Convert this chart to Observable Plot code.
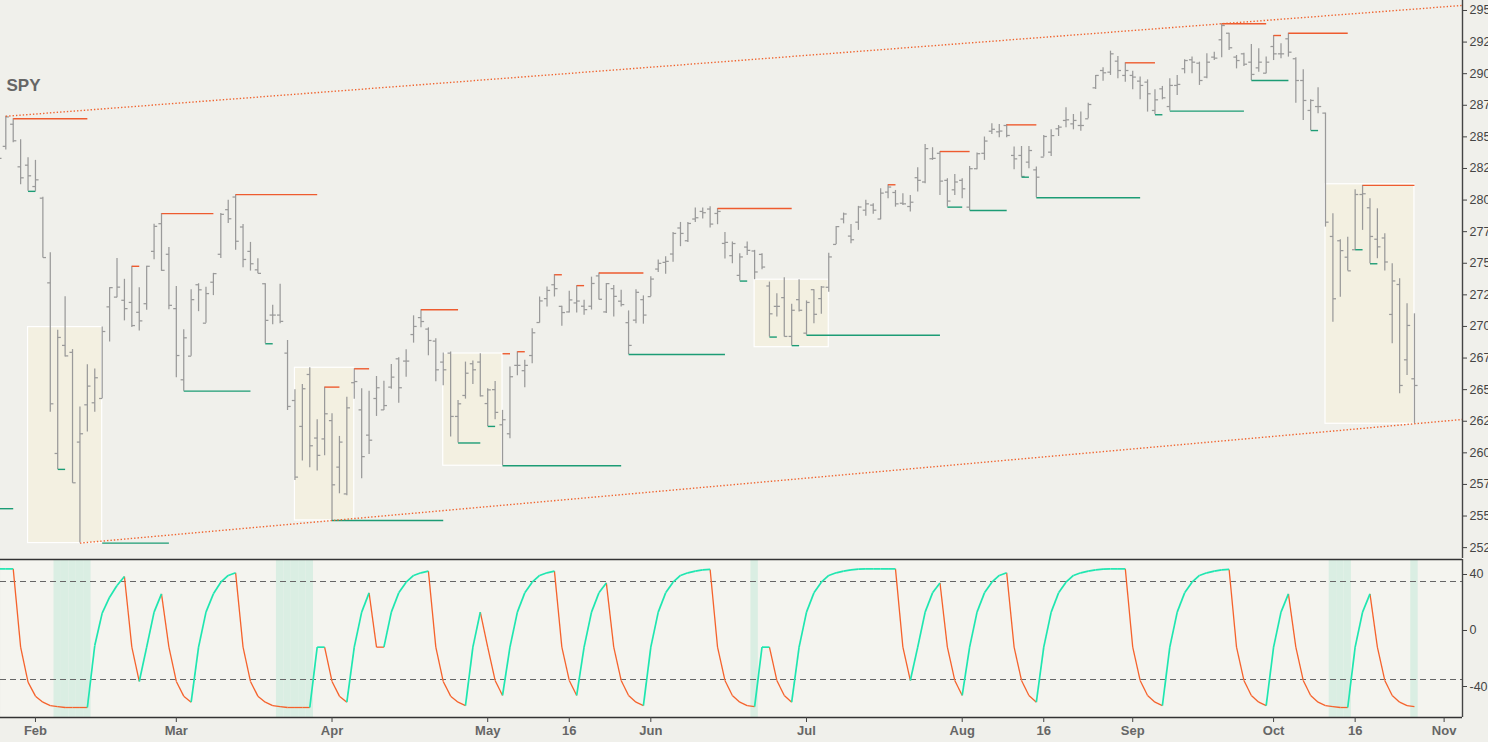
<!DOCTYPE html>
<html><head><meta charset="utf-8">
<script src="https://cdn.jsdelivr.net/npm/d3@7"></script>
<script src="https://cdn.jsdelivr.net/npm/@observablehq/plot@0.6"></script>
<style>
html,body{margin:0;padding:0;background:#f0f0eb;overflow:hidden;}
#chart{width:1488px;height:742px;}
#chart svg{display:block;}
</style></head><body><div id="chart"></div>
<script>
// ---- trading sessions (2018), index starts at -1 (Jan 25) ----
const firstIndex = -1;
const dates = ("01-25 01-26 01-29 01-30 01-31 02-01 02-02 02-05 02-06 02-07 02-08 02-09 02-12 02-13 02-14 02-15 02-16 02-20 02-21 02-22 02-23 02-26 02-27 02-28 " +
"03-01 03-02 03-05 03-06 03-07 03-08 03-09 03-12 03-13 03-14 03-15 03-16 03-19 03-20 03-21 03-22 03-23 03-26 03-27 03-28 03-29 " +
"04-02 04-03 04-04 04-05 04-06 04-09 04-10 04-11 04-12 04-13 04-16 04-17 04-18 04-19 04-20 04-23 04-24 04-25 04-26 04-27 04-30 " +
"05-01 05-02 05-03 05-04 05-07 05-08 05-09 05-10 05-11 05-14 05-15 05-16 05-17 05-18 05-21 05-22 05-23 05-24 05-25 05-29 05-30 05-31 " +
"06-01 06-04 06-05 06-06 06-07 06-08 06-11 06-12 06-13 06-14 06-15 06-18 06-19 06-20 06-21 06-22 06-25 06-26 06-27 06-28 06-29 " +
"07-02 07-03 07-05 07-06 07-09 07-10 07-11 07-12 07-13 07-16 07-17 07-18 07-19 07-20 07-23 07-24 07-25 07-26 07-27 07-30 07-31 " +
"08-01 08-02 08-03 08-06 08-07 08-08 08-09 08-10 08-13 08-14 08-15 08-16 08-17 08-20 08-21 08-22 08-23 08-24 08-27 08-28 08-29 08-30 08-31 " +
"09-04 09-05 09-06 09-07 09-10 09-11 09-12 09-13 09-14 09-17 09-18 09-19 09-20 09-21 09-24 09-25 09-26 09-27 09-28 " +
"10-01 10-02 10-03 10-04 10-05 10-08 10-09 10-10 10-11 10-12 10-15 10-16 10-17 10-18 10-19 10-22 10-23 10-24 10-25 10-26").split(" ");

const open = [
284.2,284.25,286.0,282.63,282.76,281.07,280.15,273.45,259.95,268.5,
267.95,260.85,263.8,263.96,264.3,271.55,272.32,272.07,271.9,271.12,
271.8,275.94,278.13,275.71,271.41,265.78,267.65,273.3,270.26,273.5,
275.71,279.24,280.24,277.87,275.94,274.48,273.38,270.9,270.9,267.89,
264.14,262.09,266.2,261.17,261.1,262.55,258.87,256.75,265.55,263.4,
261.4,264.3,263.4,265.2,267.44,267.26,269.36,270.7,269.79,268.84,
267.18,267.89,262.88,264.54,267.05,267.18,263.9,265.0,262.22,261.51,
266.92,266.5,267.7,270.31,272.2,273.3,271.59,271.15,271.86,271.6,
271.6,274.0,271.15,272.99,272.0,270.3,270.5,272.12,272.36,274.54,
275.07,275.73,277.79,276.78,278.5,279.1,279.29,278.94,276.57,275.6,
274.04,276.28,275.97,275.7,273.2,271.59,272.28,269.21,272.12,269.47,
272.91,272.2,273.1,276.49,278.5,277.15,278.25,279.2,279.6,278.5,
280.63,280.6,279.75,279.49,281.77,281.43,283.27,283.7,281.56,280.81,
281.56,279.44,282.48,283.7,285.45,285.4,285.9,283.53,283.53,283.0,
282.39,283.4,283.79,285.64,286.3,286.03,285.9,286.43,288.88,290.25,
290.12,290.99,289.86,289.86,289.41,289.33,287.09,288.8,287.4,289.07,
290.39,291.1,290.83,289.73,291.31,292.68,293.2,291.31,291.57,290.91,
290.46,290.04,292.15,291.57,292.76,291.18,289.46,287.09,287.4,286.88,
277.12,276.78,275.48,276.07,280.44,279.39,276.9,277.0,270.95,273.32,
267.36,265.86];

const high = [
284.3,286.63,286.43,284.77,283.35,283.14,280.23,275.83,269.7,272.36,
268.17,263.62,266.97,266.63,269.95,273.07,275.37,273.73,274.76,273.07,
274.76,278.08,278.93,276.24,273.17,269.74,272.9,273.38,273.1,274.2,
278.93,279.98,280.43,278.07,276.65,275.36,273.38,271.67,273.33,268.89,
265.0,265.41,266.73,262.62,265.2,263.09,261.3,264.4,266.65,265.07,
264.88,266.04,265.67,266.99,267.52,268.15,270.84,271.32,269.89,269.02,
267.89,267.97,264.15,267.18,267.26,267.84,265.07,265.65,263.36,266.79,
268.0,267.32,269.82,272.33,273.12,274.1,271.6,272.78,273.23,272.07,
273.9,274.23,273.39,273.25,272.86,271.23,272.9,272.42,273.93,275.25,
275.51,277.44,278.23,278.23,279.37,279.37,279.47,279.33,277.44,276.68,
275.75,276.68,276.02,275.75,273.51,272.59,273.86,271.75,273.7,272.02,
272.91,273.17,275.8,277.91,278.97,278.07,279.5,279.98,279.7,280.89,
281.21,280.76,280.5,280.37,282.56,284.4,284.14,283.84,281.69,282.03,
281.69,282.66,283.72,284.99,286.03,285.98,285.98,284.19,284.24,284.24,
282.61,285.11,285.56,285.9,287.3,286.77,286.96,287.67,289.86,290.46,
291.78,291.36,290.86,290.2,289.73,289.51,288.72,288.99,289.59,289.86,
291.1,291.31,290.91,291.57,291.7,293.95,293.2,291.44,291.62,292.31,
291.97,291.31,293.02,292.36,293.2,291.26,290.31,287.93,288.88,286.88,
278.92,276.86,277.06,280.81,281.16,280.1,279.31,277.33,274.96,273.77,
271.8,271.0];

const low = [
282.4,283.96,284.53,281.21,280.69,280.69,275.41,263.22,258.69,267.58,
257.59,252.86,261.64,263.22,264.28,268.77,272.27,270.44,269.91,269.64,
271.28,275.28,274.36,271.33,265.94,264.88,267.65,271.17,270.26,272.44,
275.37,278.14,276.02,274.64,274.38,274.17,268.63,270.14,270.22,263.35,
257.81,259.35,258.82,258.56,259.77,254.65,256.76,256.6,264.25,257.95,
259.87,262.88,263.35,265.04,263.93,265.99,268.68,269.89,267.68,265.62,
265.31,261.25,260.78,264.25,265.41,264.41,262.09,262.62,258.98,261.12,
266.1,265.15,267.05,270.27,271.54,272.33,270.02,271.07,271.07,270.88,
271.3,272.1,271.02,270.75,271.54,267.78,270.22,270.18,272.36,274.27,
274.14,275.07,276.31,276.65,278.23,278.5,277.79,278.05,275.33,274.96,
273.59,275.62,273.7,274.49,269.16,270.75,269.16,268.48,271.15,269.3,
270.22,270.96,272.7,276.49,278.12,276.54,277.6,278.71,278.87,278.44,
280.1,279.44,279.57,279.05,280.63,281.29,283.14,280.37,279.44,280.37,
280.1,279.17,282.4,283.14,285.19,284.93,284.93,282.4,281.81,282.47,
280.18,283.4,283.45,285.03,285.72,285.56,285.45,286.43,288.75,289.41,
289.86,289.59,289.33,288.72,287.93,286.96,286.75,287.93,287.04,288.28,
289.99,289.99,289.07,289.59,291.04,291.26,291.84,290.38,290.57,289.46,
290.12,289.99,291.04,291.18,291.31,287.67,286.3,285.5,286.82,277.86,
270.34,272.32,274.38,276.07,277.6,274.96,275.36,274.38,268.63,264.68,
266.12,262.3];

const close = [
283.3,286.58,284.69,281.76,281.92,281.6,275.45,263.88,269.13,267.67,
257.63,261.51,265.28,265.94,269.6,273.07,273.11,271.41,270.07,270.44,
274.76,277.92,274.44,271.67,267.7,269.1,272.12,272.9,272.6,274.18,
278.87,278.52,276.74,275.3,274.96,274.2,270.48,270.9,270.4,263.67,
258.08,265.07,260.56,259.8,263.09,257.47,260.85,263.56,265.64,259.7,
261.0,265.15,263.74,265.99,265.15,267.26,270.0,270.39,268.89,266.57,
266.57,262.88,263.88,266.3,266.57,264.51,264.98,263.2,262.62,266.02,
266.92,266.92,269.5,272.02,272.85,272.99,271.1,272.1,272.01,271.33,
273.4,272.15,273.39,272.38,271.73,268.5,272.7,270.9,273.75,274.99,
275.15,277.36,277.36,278.15,278.6,279.0,278.1,279.1,276.65,276.56,
275.5,276.02,274.31,274.7,271.0,271.59,269.21,271.28,271.28,271.9,
270.96,273.12,275.5,277.9,278.9,276.86,279.45,279.7,279.2,280.55,
281.03,279.7,279.7,279.83,281.56,284.07,283.3,281.5,279.92,281.43,
280.89,282.48,283.67,284.67,285.6,285.46,285.11,283.26,281.87,283.92,
281.81,285.03,285.1,285.77,286.35,286.3,285.9,287.56,289.86,290.07,
291.57,290.25,290.25,289.73,289.07,288.41,287.93,288.09,289.07,289.15,
291.04,290.91,289.46,290.91,291.23,293.81,292.05,291.04,290.75,289.94,
290.91,290.91,291.57,291.57,291.7,289.46,287.88,287.88,287.4,278.25,
272.19,276.0,274.4,280.44,280.5,277.12,276.3,275.1,273.6,265.33,
270.08,265.33];

// oscillator (lower panel)
const osc = [
44.0,44.0,44.0,-11.9,-36.9,-46.9,-51.2,-53.6,-54.3,-55.0,
-55.0,-55.0,-55.0,-10.7,12.4,23.8,32.1,38.6,-11.9,-36.4,
-11.9,13.1,26.2,-11.9,-36.4,-46.9,-51.2,-11.9,13.1,26.2,
34.5,39.3,41.2,-11.9,-36.4,-46.9,-51.2,-53.6,-54.3,-55.0,
-55.0,-55.0,-55.0,-11.9,-11.9,-36.4,-46.9,-51.2,-11.9,13.1,
26.9,-11.9,-11.9,13.1,26.9,34.5,39.3,41.2,42.4,-11.9,
-36.4,-46.9,-51.2,-53.6,-11.9,13.1,-11.9,-35.7,-46.4,-11.9,
13.1,26.9,34.5,39.3,41.2,42.4,-11.9,-35.7,-46.4,-11.9,
13.1,26.9,34.0,-11.9,-35.7,-46.4,-51.2,-53.6,-11.9,13.1,
26.9,34.5,39.3,41.2,42.4,43.3,43.6,-11.9,-35.7,-46.4,
-51.2,-53.6,-54.3,-11.9,-11.9,-35.7,-46.4,-51.2,-11.9,13.1,
26.9,34.5,39.3,41.2,42.4,43.3,43.8,44.0,44.0,44.0,
44.0,44.0,-11.9,-35.7,-11.9,13.1,26.9,34.0,-11.9,-35.7,
-46.4,-11.9,13.1,26.9,34.5,39.3,41.2,-11.9,-35.7,-46.4,
-51.2,-11.9,13.1,26.9,34.5,39.3,41.2,42.4,43.3,43.8,
44.0,44.0,44.0,-11.9,-35.7,-46.4,-51.2,-53.6,-11.9,13.1,
26.9,34.5,39.3,41.2,42.4,43.3,43.6,-11.9,-35.7,-46.4,
-51.2,-53.6,-11.9,13.1,26.2,-11.9,-35.7,-46.4,-51.2,-53.6,
-54.3,-55.0,-55.0,-11.9,13.1,26.2,-11.9,-35.7,-46.4,-51.2,
-53.6,-54.3];

// resistance levels: start bar, end bar, price
const resStart = [1,17,21,31,43,47,56,67,69,74,77,80,96,119,126,135,151,164,171,173,183];
const resEnd   = [11,18,28,42,45,49,61,68,70,75,78,86,106,120,130,139,155,170,172,181,190];
const resPrice = [286.43,274.76,278.93,280.43,265.2,266.65,271.32,267.84,268.0,274.09,273.23,274.23,279.33,281.21,283.84,285.95,290.86,293.95,293.02,293.2,281.16];
// support levels
const supStart = [-3,3,7,13,24,35,44,61,65,67,84,99,103,106,108,127,130,137,139,155,157,168,176,182,184];
const supEnd   = [1,4,8,22,33,36,59,64,66,83,97,100,104,107,126,129,135,138,153,156,167,173,177,183,185];
const supPrice = [255.58,280.69,258.69,252.86,264.88,268.63,254.65,260.78,262.09,258.98,267.78,273.59,269.16,268.48,269.3,279.44,279.17,281.81,280.18,286.75,287.04,289.46,285.5,276.07,274.96];
// consolidation boxes
const boxStart = [3,39,59,101,178];
const boxEnd   = [13,47,67,111,190];
const boxLow   = [252.86,254.65,258.98,268.36,262.3];
const boxHigh  = [269.95,266.73,267.86,273.7,281.25];
// trend channel anchor bars
const trendTopBars = [0,164];     // through highs
const trendBottomBars = [10,190]; // through lows

// axes
const priceTicks = [252.5,255,257.5,260,262.5,265,267.5,270,272.5,275,277.5,280,282.5,285,287.5,290,292.5,295];
const oscTicks = [-40,0,40];
const oscBands = [35,-35];
const xTickIdx = [4,23,44,65,76,87,108,129,140,152,171,182,194];
const xTickLabels = ["Feb","Mar","Apr","May","16","Jun","Jul","Aug","16","Sep","Oct","16","Nov"];

// ---- build tables ----
const bars = dates.map((d,k)=>({i:k+firstIndex, date:d, o:open[k], h:high[k], l:low[k], c:close[k], v:osc[k]}));
const byIdx = new Map(bars.map(b=>[b.i,b]));
const res = resStart.map((s,k)=>({i0:s, i1:resEnd[k], p:resPrice[k]}));
const sup = supStart.map((s,k)=>({i0:s, i1:supEnd[k], p:supPrice[k]}));
const boxes = boxStart.map((s,k)=>({i0:s, i1:boxEnd[k], lo:boxLow[k], hi:boxHigh[k]}));

const xDomain = [-0.715, 196.48];
const xEnd = xDomain[1];
function extend(a, pa, b, pb){ const s=(pb-pa)/(b-a); return {x1:a, y1:pa, x2:xEnd, y2:pa+s*(xEnd-a)}; }
const trends = [
  extend(trendTopBars[0], byIdx.get(trendTopBars[0]).h, trendTopBars[1], byIdx.get(trendTopBars[1]).h),
  extend(trendBottomBars[0], byIdx.get(trendBottomBars[0]).l, trendBottomBars[1], byIdx.get(trendBottomBars[1]).l)
];

const segs = [];
let dir = "up";
for (let k=0;k<bars.length-1;k++){
  const a=bars[k], b=bars[k+1];
  if (b.v>a.v) dir="up"; else if (b.v<a.v) dir="down";
  segs.push({x1:a.i, y1:a.v, x2:b.i, y2:b.v, dir});
}
const shaded = bars.filter(b=>b.v<=-54);

const font = "Liberation Sans, Arial, Helvetica, sans-serif";
const barColor = "#9a9a9a";
const redLvl = "#ee5b2f", greenLvl = "#1c9c75";
const oscUp = "#1fe6b0", oscDown = "#f5622c";
const yTop = [251.64, 295.79];
const yBot = [-62.14, 50.71];

const topPlot = Plot.plot({
  width:1488, height:558, marginLeft:0, marginRight:26, marginTop:0, marginBottom:0,
  x:{domain:xDomain, axis:null},
  y:{domain:yTop, axis:null},
  style:{background:"#f0f0eb", fontFamily:font, color:"#444", overflow:"visible"},
  marks:[
    Plot.rect(boxes, {x1:"i0", x2:"i1", y1:"lo", y2:"hi", fill:"#f3f0e1", stroke:"#ffffff", strokeWidth:1.2}),
    Plot.ruleX(bars, {x:"i", y1:"l", y2:"h", stroke:barColor, strokeWidth:1.25, clip:true}),
    Plot.link(bars, {x1:d=>d.i-0.42, x2:"i", y1:"o", y2:"o", stroke:barColor, strokeWidth:1.25, clip:true}),
    Plot.link(bars, {x1:"i", x2:d=>d.i+0.42, y1:"c", y2:"c", stroke:barColor, strokeWidth:1.25, clip:true}),
    Plot.link(res, {x1:"i0", x2:"i1", y1:"p", y2:"p", stroke:redLvl, strokeWidth:1.4, clip:true}),
    Plot.link(sup, {x1:"i0", x2:"i1", y1:"p", y2:"p", stroke:greenLvl, strokeWidth:1.4, clip:true}),
    Plot.link(trends, {x1:"x1", y1:"y1", x2:"x2", y2:"y2", stroke:"#f0642f", strokeWidth:1.4, strokeDasharray:"1.4,2", clip:true}),
    Plot.ruleX([xEnd], {stroke:"#444", strokeWidth:1.4}),
    Plot.axisY({anchor:"right", ticks:priceTicks, tickFormat:d=>d.toFixed(1), tickSize:4, tickPadding:3, fontSize:12.5}),
    Plot.text(["SPY"], {frameAnchor:"top-left", dx:6, dy:78, lineAnchor:"top", textAnchor:"start", fontSize:17, fontWeight:"bold", fill:"#666"})
  ]
});

const botPlot = Plot.plot({
  width:1488, height:184, marginLeft:0, marginRight:26, marginTop:1, marginBottom:25,
  x:{domain:xDomain, axis:null},
  y:{domain:yBot, axis:null},
  style:{background:"#f0f0eb", fontFamily:font, color:"#444", overflow:"visible"},
  marks:[
    Plot.frame({fill:"#f4f4ef", stroke:null}),
    Plot.rect(shaded, {x1:d=>d.i-0.5, x2:d=>d.i+0.5, y1:()=>yBot[0], y2:()=>yBot[1], fill:"#daeee3"}),
    Plot.ruleY(oscBands, {stroke:"#666", strokeWidth:1.1, strokeDasharray:"6,4"}),
    Plot.link(segs.filter(s=>s.dir==="down"), {x1:"x1", y1:"y1", x2:"x2", y2:"y2", stroke:oscDown, strokeWidth:1.3, clip:true}),
    Plot.link(segs.filter(s=>s.dir==="up"), {x1:"x1", y1:"y1", x2:"x2", y2:"y2", stroke:oscUp, strokeWidth:1.7, clip:true}),
    Plot.ruleY([yBot[1], yBot[0]], {stroke:"#333", strokeWidth:1.5}),
    Plot.ruleX([xEnd], {stroke:"#444", strokeWidth:1.4}),
    Plot.axisY({anchor:"right", ticks:oscTicks, tickFormat:d=>String(d), tickSize:4, tickPadding:3, fontSize:12.5}),
    Plot.axisX({anchor:"bottom", ticks:xTickIdx, tickFormat:d=>xTickLabels[xTickIdx.indexOf(d)], tickSize:5, tickPadding:3, fontSize:13, fontWeight:"bold"})
  ]
});

const host = document.getElementById("chart");
host.appendChild(topPlot);
host.appendChild(botPlot);
botPlot.querySelectorAll('g[aria-label="x-axis tick label"] text').forEach(t=>{t.style.fontWeight="bold"; t.setAttribute("fill","#666");});
</script>
</body></html>
